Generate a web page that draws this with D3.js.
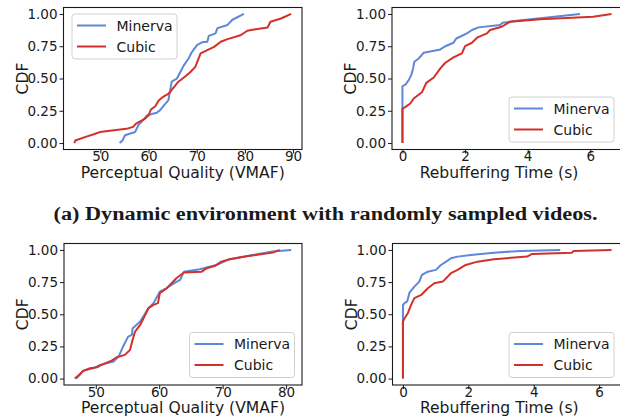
<!DOCTYPE html>
<html>
<head>
<meta charset="utf-8">
<script src="https://cdn.jsdelivr.net/npm/d3@7/dist/d3.min.js"></script>
<style>
  body { margin: 0; background: #fff; }
  svg { display: block; }
  text { font-family: "DejaVu Sans", sans-serif; fill: #1a1a1a; }
</style>
</head>
<body>
<div id="chart"></div>
<script>
// CDF points: [value, cdf]
var dynQualityMinerva = [[54.0,0],[54.6,0.02],[55.1,0.06],[57.2,0.085],[57.9,0.14],[58.9,0.18],[59.7,0.215],
  [61.7,0.235],[62.4,0.255],[63.5,0.305],[64.1,0.33],[64.5,0.41],[64.8,0.475],[65.9,0.5],[66.6,0.55],[67.3,0.6],
  [68.3,0.655],[69.0,0.705],[70.1,0.76],[71.1,0.78],[72.2,0.785],[72.5,0.83],[73.9,0.85],[74.3,0.89],[76.4,0.915],
  [77.4,0.955],[79.8,1.0]];
var dynQualityCubic = [[44.6,0],[44.8,0.02],[47.1,0.05],[48.8,0.07],[49.9,0.085],[55.4,0.11],[56.8,0.125],[57.4,0.15],
  [59.3,0.19],[60.0,0.215],[60.5,0.26],[61.4,0.285],[62.1,0.33],[63.1,0.36],[64.1,0.38],[65.2,0.43],[66.2,0.475],
  [67.6,0.515],[68.7,0.55],[69.7,0.59],[70.4,0.655],[70.8,0.695],[72.2,0.72],[73.6,0.745],[75.0,0.785],[76.4,0.805],
  [79.1,0.835],[80.5,0.87],[81.9,0.88],[84.7,0.895],[85.3,0.94],[87.5,0.965],[89.6,1.0]];

var dynRebufMinerva = [[0,0],[0,0.44],[0.1,0.455],[0.2,0.487],[0.28,0.526],[0.34,0.578],[0.38,0.63],[0.52,0.655],
  [0.68,0.70],[1.21,0.725],[1.37,0.75],[1.63,0.777],[1.72,0.81],[2.06,0.85],[2.22,0.876],[2.43,0.896],[3.12,0.915],
  [3.2,0.932],[3.65,0.948],[4.4,0.966],[5.67,1.0]];
var dynRebufCubic = [[0,0],[0,0.267],[0.1,0.28],[0.25,0.306],[0.36,0.345],[0.63,0.396],[0.76,0.466],[1.0,0.508],
  [1.21,0.578],[1.37,0.622],[1.63,0.663],[1.9,0.695],[2.0,0.751],[2.22,0.777],[2.4,0.819],[2.7,0.85],[2.8,0.876],
  [3.17,0.901],[3.44,0.94],[4.4,0.959],[6.09,0.979],[6.68,1.0]];

var rndQualityMinerva = [[46.9,0],[47.5,0.03],[48.0,0.06],[49.6,0.08],[50.7,0.106],[52.8,0.132],[53.6,0.171],
  [54.3,0.249],[55.1,0.326],[55.7,0.34],[55.8,0.39],[57.0,0.443],[58.3,0.547],[59.1,0.586],[60.1,0.676],[61.1,0.702],
  [62.5,0.746],[63.3,0.767],[63.9,0.831],[66.4,0.85],[69.0,0.883],[71.1,0.928],[74.8,0.961],[77.9,0.987],[80.8,1.0]];
var rndQualityCubic = [[46.7,0],[47.4,0.03],[48.0,0.06],[49.1,0.08],[50.2,0.088],[50.9,0.106],[52.5,0.14],[53.3,0.166],
  [54.6,0.184],[55.4,0.223],[55.8,0.30],[56.2,0.365],[57.0,0.417],[57.8,0.495],[58.3,0.547],[59.1,0.573],[59.8,0.586],
  [60.1,0.664],[61.2,0.702],[62.7,0.78],[63.9,0.824],[66.7,0.831],[67.5,0.858],[68.8,0.876],[69.8,0.909],[71.1,0.928],
  [74.0,0.953],[77.9,0.979],[79.0,1.0]];

var rndRebufMinerva = [[0,0],[0,0.573],[0.05,0.586],[0.13,0.6],[0.2,0.668],[0.35,0.715],[0.5,0.754],[0.58,0.806],
  [0.76,0.831],[1.01,0.845],[1.16,0.883],[1.32,0.909],[1.47,0.935],[1.67,0.948],[2.08,0.961],[2.78,0.979],[3.6,0.992],
  [4.81,1.0]];
var rndRebufCubic = [[0,0],[0,0.443],[0.05,0.469],[0.15,0.508],[0.25,0.573],[0.35,0.625],[0.56,0.65],[0.76,0.702],
  [0.96,0.741],[1.22,0.754],[1.47,0.819],[1.67,0.845],[1.92,0.883],[2.28,0.909],[2.78,0.928],[3.8,0.948],[3.95,0.969],
  [5.17,0.979],[5.22,0.992],[6.38,1.0]];

var seriesNames = ["Minerva", "Cubic"];
var seriesColors = ["#5f87d8", "#d3302a"];
var cdfTicks = [0, 0.25, 0.5, 0.75, 1.0];
var qualityTicksDyn = [50, 60, 70, 80, 90];
var qualityTicksRnd = [50, 60, 70, 80];
var rebufTicks = [0, 2, 4, 6];
var caption = "(a) Dynamic environment with randomly sampled videos.";

var svg = d3.select("#chart")
  .append("svg")
  .attr("width", 620)
  .attr("height", 419);

function drawPanel(p) {
  var all = p.series[0].concat(p.series[1]);
  var ext = d3.extent(all, function(d) { return d[0]; });
  var pad = (ext[1] - ext[0]) * 0.05;

  var x = d3.scaleLinear().domain([ext[0] - pad, ext[1] + pad]).range([p.left, p.right]);
  var y = d3.scaleLinear().domain([-0.05, 1.05]).range([p.bottom, p.top]);

  var g = svg.append("g");

  // axes
  var xAxis = g.append("g")
    .attr("transform", "translate(0," + p.bottom + ")")
    .call(d3.axisBottom(x).tickValues(p.xTicks).tickSize(4).tickFormat(d3.format("d")));
  xAxis.selectAll("text").attr("y", 11.5).attr("dy", null);
  var yAxis = g.append("g")
    .attr("transform", "translate(" + p.left + ",0)")
    .call(d3.axisLeft(y).tickValues(cdfTicks).tickSize(4).tickPadding(2).tickFormat(d3.format(".2f")));
  [xAxis, yAxis].forEach(function(a) {
    a.select(".domain").remove();
    a.selectAll("line").attr("stroke", "#1a1a1a").attr("stroke-width", 1);
    a.selectAll("text").style("font-size", "13.5px").attr("fill", "#1a1a1a").style("font-family", "DejaVu Sans");
  });

  // lines
  var line = d3.line()
    .x(function(d) { return x(d[0]); })
    .y(function(d) { return y(d[1]); });
  p.series.forEach(function(s, i) {
    g.append("path")
      .datum(s)
      .attr("d", line)
      .attr("fill", "none")
      .attr("stroke", seriesColors[i])
      .attr("stroke-width", 2)
      .attr("stroke-linejoin", "round");
  });

  // frame
  g.append("rect")
    .attr("x", p.left).attr("y", p.top)
    .attr("width", p.right - p.left).attr("height", p.bottom - p.top)
    .attr("fill", "none").attr("stroke", "#1a1a1a").attr("stroke-width", 1.1);

  // axis labels
  g.append("text")
    .attr("x", (p.left + p.right) / 2 - (p.right > 610 ? 8 : 0))
    .attr("y", p.bottom + 28)
    .attr("text-anchor", "middle")
    .style("font-size", "15.6px")
    .text(p.xLabel);
  g.append("text")
    .attr("transform", "translate(" + (p.left - 36) + "," + ((p.top + p.bottom) / 2) + ") rotate(-90)")
    .attr("text-anchor", "middle")
    .style("font-size", "15.6px")
    .text("CDF");

  // legend
  var lw = 105, lh = 45;
  var lx = p.legend == "tl" ? p.left + 8.5 : Math.min(p.right, 621.5) - 7.5 - lw;
  var ly = p.legend == "tl" ? p.top + 6.5 : p.bottom - 7.5 - lh;
  var lg = g.append("g").attr("transform", "translate(" + lx + "," + ly + ")");
  lg.append("rect")
    .attr("width", lw).attr("height", lh)
    .attr("rx", 3)
    .attr("fill", "#fff").attr("fill-opacity", 0.85)
    .attr("stroke", "#d0d0d0").attr("stroke-width", 1);
  seriesNames.forEach(function(n, i) {
    var yy = 11.5 + i * 21;
    lg.append("line")
      .attr("x1", 5).attr("x2", 34)
      .attr("y1", yy).attr("y2", yy)
      .attr("stroke", seriesColors[i]).attr("stroke-width", 2);
    lg.append("text")
      .attr("x", 44.5).attr("y", yy + 5)
      .style("font-size", "14px")
      .text(n);
  });
}

drawPanel({left: 63.5, right: 302, top: 7.5, bottom: 149.5, xTicks: qualityTicksDyn,
  xLabel: "Perceptual Quality (VMAF)", series: [dynQualityMinerva, dynQualityCubic], legend: "tl"});
drawPanel({left: 392, right: 622, top: 7.5, bottom: 149.5, xTicks: rebufTicks,
  xLabel: "Rebuffering Time (s)", series: [dynRebufMinerva, dynRebufCubic], legend: "br"});
drawPanel({left: 64, right: 302, top: 243.5, bottom: 385, xTicks: qualityTicksRnd,
  xLabel: "Perceptual Quality (VMAF)", series: [rndQualityMinerva, rndQualityCubic], legend: "br"});
drawPanel({left: 392.5, right: 622, top: 243.5, bottom: 385, xTicks: rebufTicks,
  xLabel: "Rebuffering Time (s)", series: [rndRebufMinerva, rndRebufCubic], legend: "br"});

// caption
svg.append("text")
  .attr("x", 53.5)
  .attr("y", 220)
  .attr("textLength", 544)
  .attr("lengthAdjust", "spacingAndGlyphs")
  .style("font-family", "'Liberation Serif', 'DejaVu Serif', serif")
  .style("font-weight", "bold")
  .style("font-size", "18px")
  .text(caption);
</script>
</body>
</html>
